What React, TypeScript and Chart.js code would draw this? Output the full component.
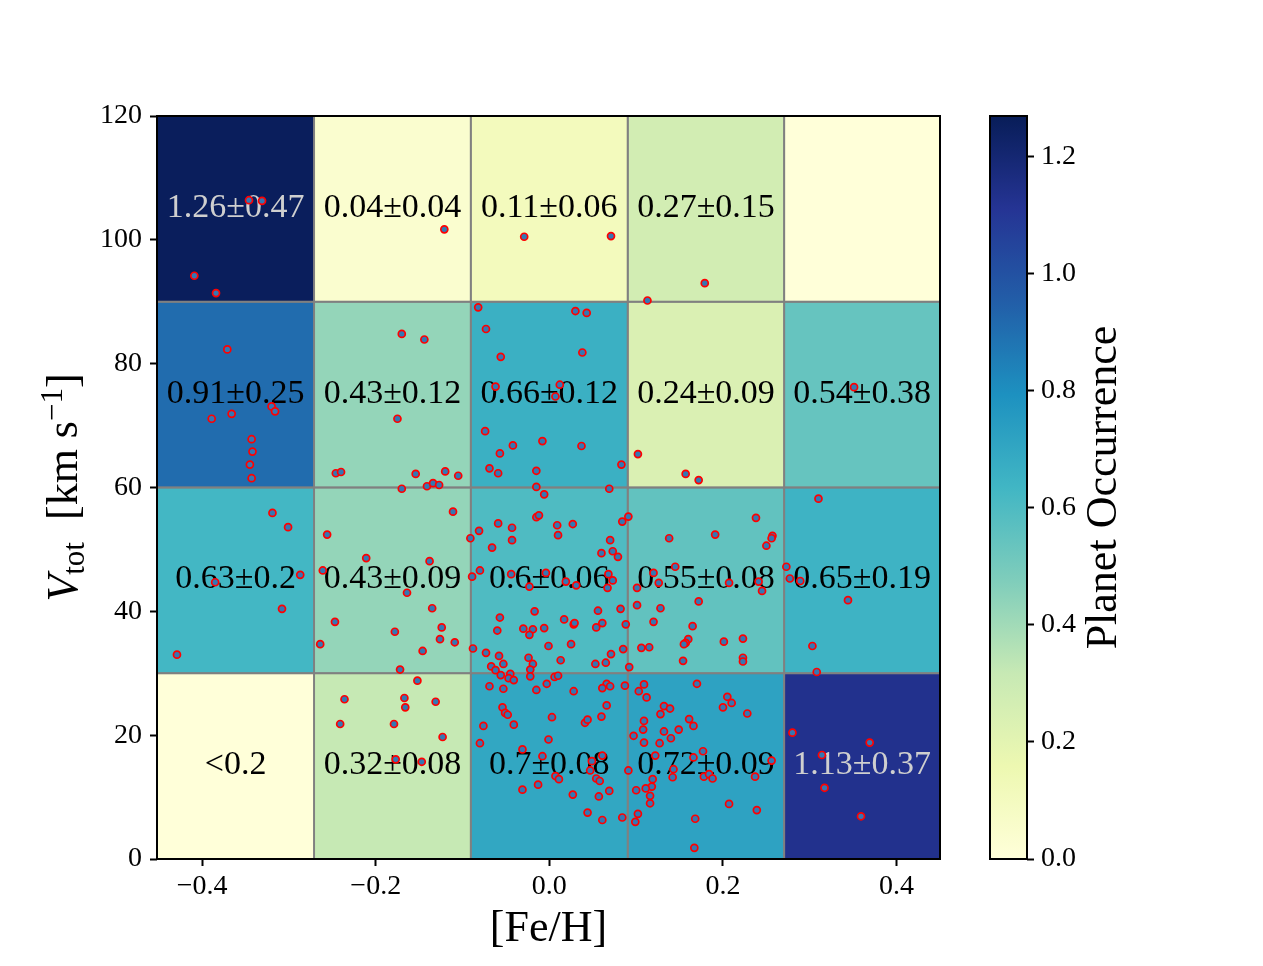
import { useEffect, useRef } from "react";
import { Chart, registerables } from "chart.js";

Chart.register(...registerables);

// Bin edges of the occurrence grid
const fehBinEdges = [-0.452, -0.271, -0.0905, 0.0903, 0.2705, 0.45];
const vtotBinEdges = [0, 30, 60, 90, 120];

// Planet occurrence per velocity bin (lowest first), one entry per [Fe/H] bin
const occurrenceRates: (number | null)[][] = [
  [null, 0.32, 0.7, 0.72, 1.13],
  [0.63, 0.43, 0.6, 0.55, 0.65],
  [0.91, 0.43, 0.66, 0.24, 0.54],
  [1.26, 0.04, 0.11, 0.27, null],
];
const occurrenceErrors: (number | null)[][] = [
  [null, 0.08, 0.08, 0.09, 0.37],
  [0.2, 0.09, 0.06, 0.08, 0.19],
  [0.25, 0.12, 0.12, 0.09, 0.38],
  [0.47, 0.04, 0.06, 0.15, null],
];
const upperLimits: (number | null)[][] = [
  [0.2, null, null, null, null],
  [null, null, null, null, null],
  [null, null, null, null, null],
  [null, null, null, null, null],
];

const fehTicks = [-0.4, -0.2, 0, 0.2, 0.4];
const vtotTicks = [0, 20, 40, 60, 80, 100, 120];
const colorbarTicks = [0, 0.2, 0.4, 0.6, 0.8, 1.0, 1.2];
const colorbarMax = 1.27;

const xTitle = "[Fe/H]";
const colorbarTitle = "Planet Occurrence";

// Host stars: metallicity and total space velocity (km/s)
const starFeH = [
  -0.346, -0.331, -0.121, -0.029, -0.409, -0.384, 0.071, 0.179, 0.113, -0.082,
  -0.073, -0.17, -0.144, -0.371, -0.056, -0.062, -0.32, -0.316, -0.366, -0.389,
  -0.175, -0.343, -0.074, -0.342, -0.008, -0.042, -0.057, -0.345, -0.069, -0.059,
  -0.015, -0.343, -0.246, -0.24, -0.154, -0.12, -0.105, -0.17, -0.141, -0.134,
  -0.127, -0.015, 0.03, 0.043, 0.038, 0.012, 0.007, 0.351, 0.037, 0.083,
  0.102, 0.157, 0.172, 0.069, -0.006, -0.319, -0.301, -0.287, -0.385, -0.308,
  -0.429, -0.111, -0.256, -0.211, -0.138, -0.261, -0.164, -0.135, -0.247, -0.178,
  -0.124, -0.126, -0.109, -0.264, -0.146, -0.172, -0.015, -0.012, -0.059, -0.081,
  -0.043, -0.043, 0.009, 0.027, 0.01, -0.066, -0.091, 0.07, 0.06, 0.073,
  0.079, 0.084, 0.091, -0.08, -0.089, -0.044, -0.004, -0.023, 0.019, 0.031,
  0.068, 0.073, 0.067, -0.017, -0.057, -0.06, -0.03, -0.019, -0.023, -0.006,
  0.017, 0.028, 0.029, 0.056, 0.061, 0.054, 0.082, 0.088, -0.088, -0.073,
  -0.058, -0.001, 0.025, 0.085, 0.071, -0.024, 0.013, -0.067, -0.062, -0.053,
  -0.019, -0.022, 0.053, 0.065, 0.092, 0.238, 0.191, 0.138, 0.257, 0.256,
  0.25, 0.145, 0.12, 0.126, 0.101, 0.207, 0.241, 0.245, 0.172, 0.101,
  0.128, 0.12, 0.165, 0.16, 0.157, 0.155, 0.201, 0.223, 0.106, 0.115,
  0.154, 0.223, 0.223, 0.31, 0.273, 0.277, 0.289, 0.344, 0.303, 0.308,
  -0.152, -0.236, -0.167, -0.166, -0.131, -0.241, -0.179, -0.123, -0.177, -0.147,
  -0.056, -0.045, -0.047, -0.041, -0.022, 0.006, 0.01, -0.003, 0.066, 0.087,
  -0.069, -0.053, -0.015, 0.028, 0.061, 0.07, -0.054, -0.051, -0.048, -0.041,
  0.003, -0.076, 0.041, 0.044, 0.06, 0.066, -0.08, -0.001, -0.031, -0.008,
  0.061, 0.049, 0.047, 0.007, 0.011, 0.054, 0.058, -0.013, -0.031, 0.069,
  0.027, 0.057, 0.044, 0.061, 0.084, 0.091, 0.097, 0.109, 0.103, 0.112,
  0.17, 0.205, 0.21, 0.2, 0.228, 0.132, 0.139, 0.128, 0.161, 0.166,
  0.109, 0.108, 0.109, 0.132, 0.14, 0.149, 0.127, 0.122, 0.177, 0.166,
  0.143, 0.142, 0.119, 0.118, 0.111, 0.116, 0.116, 0.178, 0.184, 0.188,
  0.237, 0.256, 0.1, 0.207, 0.239, 0.102, 0.099, 0.168, 0.167, 0.28,
  0.369, 0.314, 0.317, 0.359,
];
const starVtot = [
  106.4, 106.3, 101.7, 100.5, 94.2, 91.4, 100.6, 93.0, 90.2, 89.1,
  85.6, 84.8, 83.9, 82.3, 81.1, 76.3, 73.1, 72.3, 71.9, 71.1,
  71.1, 67.8, 69.1, 65.8, 67.5, 66.8, 65.5, 63.7, 63.1, 62.3,
  62.7, 61.5, 62.3, 62.5, 62.2, 62.6, 61.9, 59.8, 60.2, 60.7,
  60.4, 60.1, 88.5, 88.2, 81.8, 76.6, 74.7, 76.2, 66.7, 63.7,
  65.4, 62.2, 61.2, 59.8, 58.9, 55.9, 53.6, 45.9, 44.7, 40.4,
  33.0, 56.1, 52.4, 48.6, 48.1, 46.6, 43.0, 40.5, 38.3, 36.7,
  37.4, 35.5, 35.0, 34.7, 33.6, 30.6, 55.2, 55.5, 54.2, 53.0,
  53.5, 51.5, 53.9, 54.1, 52.3, 50.3, 51.8, 51.5, 49.4, 49.7,
  48.8, 54.5, 55.3, 46.6, 45.6, 46.0, 46.2, 44.0, 44.8, 44.2,
  46.0, 45.0, 43.8, 40.0, 39.0, 36.9, 37.2, 37.1, 36.2, 37.3,
  38.7, 37.9, 38.1, 40.1, 38.1, 37.4, 40.4, 37.9, 34.0, 33.3,
  32.8, 34.4, 34.7, 33.9, 33.1, 32.5, 32.1, 31.1, 30.5, 31.5,
  31.5, 30.6, 31.5, 31.7, 31.0, 55.1, 52.4, 51.8, 52.2, 51.8,
  50.6, 47.2, 46.2, 44.6, 43.8, 44.6, 44.8, 43.3, 41.6, 41.0,
  40.5, 38.3, 37.6, 35.5, 34.9, 34.7, 35.1, 35.6, 34.1, 34.2,
  32.0, 32.5, 31.9, 58.2, 47.2, 45.3, 44.9, 41.8, 34.4, 30.2,
  28.8, 25.8, 26.0, 24.5, 25.4, 21.8, 21.8, 19.7, 16.1, 15.7,
  29.7, 29.9, 29.2, 28.9, 29.5, 29.4, 29.6, 28.3, 28.3, 28.0,
  27.9, 27.5, 27.3, 27.1, 27.6, 27.9, 24.5, 23.6, 23.3, 21.7,
  22.9, 21.5, 22.0, 22.5, 23.0, 24.8, 18.7, 19.3, 17.7, 16.6,
  16.7, 15.8, 14.3, 13.4, 12.9, 13.0, 12.6, 12.0, 11.2, 11.0,
  10.4, 10.1, 7.5, 6.3, 6.7, 14.3, 19.9, 28.2, 27.1, 26.1,
  28.3, 26.2, 25.2, 24.5, 23.5, 24.7, 24.3, 23.4, 22.6, 21.5,
  22.3, 20.9, 18.8, 20.6, 19.5, 20.9, 18.7, 16.7, 17.4, 16.4,
  14.5, 13.2, 12.9, 11.7, 11.4, 10.2, 9.0, 13.3, 13.7, 13.0,
  13.3, 15.9, 11.1, 8.9, 7.9, 7.3, 6.0, 6.5, 1.8, 20.4,
  18.8, 16.8, 11.5, 6.9,
];

// YlGnBu colormap anchors
const ylgnbuStops = [
  "#ffffd9", "#edf8b1", "#c7e9b4", "#7fcdbb", "#41b6c4",
  "#1d91c0", "#225ea8", "#253494", "#081d58",
];

const SERIF = '"Liberation Serif", "Times New Roman", serif';

function hexToRgb(h: string) {
  return [
    parseInt(h.slice(1, 3), 16),
    parseInt(h.slice(3, 5), 16),
    parseInt(h.slice(5, 7), 16),
  ];
}

function ylgnbu(t: number) {
  const c = Math.max(0, Math.min(1, t));
  const s = c * (ylgnbuStops.length - 1);
  const i = Math.min(ylgnbuStops.length - 2, Math.floor(s));
  const f = s - i;
  const a = hexToRgb(ylgnbuStops[i]);
  const b = hexToRgb(ylgnbuStops[i + 1]);
  const m = a.map((v, k) => Math.round(v + (b[k] - v) * f));
  return `rgb(${m[0]},${m[1]},${m[2]})`;
}

function fmtSigned(v: number, digits: number) {
  const s = Math.abs(v).toFixed(digits);
  return v < -1e-9 ? "\u2212" + s : s;
}

function cellLabel(r: number, c: number) {
  const rate = occurrenceRates[r][c];
  const err = occurrenceErrors[r][c];
  const lim = upperLimits[r][c];
  if (rate != null) return `${rate}\u00b1${err}`;
  if (lim != null) return `<${lim}`;
  return "";
}

const occurrenceGridPlugin = {
  id: "occurrenceGrid",
  beforeDatasetsDraw(chart: any) {
    const { ctx, scales } = chart;
    const x = scales.x;
    const y = scales.y;
    ctx.save();
    for (let r = 0; r < vtotBinEdges.length - 1; r++) {
      for (let c = 0; c < fehBinEdges.length - 1; c++) {
        const x0 = x.getPixelForValue(fehBinEdges[c]);
        const x1 = x.getPixelForValue(fehBinEdges[c + 1]);
        const y0 = y.getPixelForValue(vtotBinEdges[r]);
        const y1 = y.getPixelForValue(vtotBinEdges[r + 1]);
        ctx.fillStyle = ylgnbu((occurrenceRates[r][c] ?? 0) / colorbarMax);
        ctx.fillRect(x0, y1, x1 - x0, y0 - y1);
      }
    }
    ctx.strokeStyle = "#808080";
    ctx.lineWidth = 1.8;
    for (let r = 0; r < vtotBinEdges.length - 1; r++) {
      for (let c = 0; c < fehBinEdges.length - 1; c++) {
        const x0 = x.getPixelForValue(fehBinEdges[c]);
        const x1 = x.getPixelForValue(fehBinEdges[c + 1]);
        const y0 = y.getPixelForValue(vtotBinEdges[r]);
        const y1 = y.getPixelForValue(vtotBinEdges[r + 1]);
        ctx.strokeRect(x0, y1, x1 - x0, y0 - y1);
      }
    }
    ctx.font = `34px ${SERIF}`;
    ctx.textAlign = "center";
    ctx.textBaseline = "middle";
    for (let r = 0; r < vtotBinEdges.length - 1; r++) {
      for (let c = 0; c < fehBinEdges.length - 1; c++) {
        const label = cellLabel(r, c);
        if (!label) continue;
        const cx = (x.getPixelForValue(fehBinEdges[c]) + x.getPixelForValue(fehBinEdges[c + 1])) / 2;
        const cy = (y.getPixelForValue(vtotBinEdges[r]) + y.getPixelForValue(vtotBinEdges[r + 1])) / 2;
        const rate = occurrenceRates[r][c] ?? 0;
        ctx.fillStyle = rate > 1 ? "#cfcfcf" : "#000000";
        ctx.fillText(label, cx, cy - 1);
      }
    }
    ctx.restore();
  },
};

const frameAndTitlesPlugin = {
  id: "frameAndTitles",
  afterDraw(chart: any) {
    const { ctx, chartArea } = chart;
    const { left, right, top, bottom } = chartArea;
    ctx.save();
    ctx.strokeStyle = "#000";
    ctx.lineWidth = 2;
    ctx.strokeRect(left, top, right - left, bottom - top);

    ctx.fillStyle = "#000";
    ctx.font = `44px ${SERIF}`;
    ctx.textAlign = "center";
    ctx.textBaseline = "alphabetic";
    ctx.fillText(xTitle, (left + right) / 2, 941);

    // V_tot [km s^-1], rotated, with sub- and superscripts
    const parts = [
      { text: "V", font: `italic 44px ${SERIF}`, shift: 0 },
      { text: "tot", font: `31px ${SERIF}`, shift: 7 },
      { text: "  [km s", font: `44px ${SERIF}`, shift: 0 },
      { text: "\u22121", font: `31px ${SERIF}`, shift: -15 },
      { text: "]", font: `44px ${SERIF}`, shift: 0 },
    ];
    let total = 0;
    const widths = parts.map((p) => {
      ctx.font = p.font;
      const w = ctx.measureText(p.text).width;
      total += w;
      return w;
    });
    ctx.translate(77, (top + bottom) / 2);
    ctx.rotate(-Math.PI / 2);
    ctx.textAlign = "left";
    let u = -total / 2;
    parts.forEach((p, i) => {
      ctx.font = p.font;
      ctx.fillText(p.text, u, p.shift);
      u += widths[i];
    });
    ctx.restore();
  },
};

const colorbarDecorPlugin = {
  id: "colorbarDecor",
  afterDraw(chart: any) {
    const { ctx, chartArea } = chart;
    const { left, right, top, bottom } = chartArea;
    ctx.save();
    ctx.strokeStyle = "#000";
    ctx.lineWidth = 2;
    ctx.strokeRect(left, top, right - left, bottom - top);
    ctx.fillStyle = "#000";
    ctx.font = `44px ${SERIF}`;
    ctx.textAlign = "center";
    ctx.textBaseline = "alphabetic";
    ctx.translate(156, (top + bottom) / 2);
    ctx.rotate(-Math.PI / 2);
    ctx.fillText(colorbarTitle, 0, 0);
    ctx.restore();
  },
};

const tickFont = { family: SERIF, size: 28 };

export default function App() {
  const mainRef = useRef<HTMLCanvasElement>(null);
  const barRef = useRef<HTMLCanvasElement>(null);

  useEffect(() => {
    const points = starFeH.map((x, i) => ({ x, y: starVtot[i] }));

    const main = new Chart(mainRef.current!, {
      type: "scatter",
      data: {
        datasets: [
          {
            data: points,
            pointRadius: 3.5,
            pointBorderWidth: 1.7,
            pointBackgroundColor: "#3577b3",
            pointBorderColor: "#ff0000",
            showLine: false,
          },
        ],
      },
      options: {
        animation: false,
        responsive: false,
        devicePixelRatio: 1,
        events: [],
        layout: { padding: { left: 0, top: 116, right: 20, bottom: 0 } },
        plugins: { legend: { display: false }, tooltip: { enabled: false } },
        scales: {
          x: {
            type: "linear",
            position: "bottom",
            min: fehBinEdges[0],
            max: fehBinEdges[fehBinEdges.length - 1],
            afterFit: (s: any) => {
              s.height = 107;
            },
            afterBuildTicks: (s: any) => {
              s.ticks = fehTicks.map((v) => ({ value: v }));
            },
            ticks: {
              callback: (v: any) => fmtSigned(Number(v), 1),
              font: tickFont,
              color: "#000",
              padding: 4,
              maxRotation: 0,
            },
            grid: {
              drawOnChartArea: false,
              tickLength: 7,
              tickWidth: 2,
              tickColor: "#000",
            },
            border: { display: false },
          },
          y: {
            type: "linear",
            position: "left",
            min: vtotBinEdges[0],
            max: vtotBinEdges[vtotBinEdges.length - 1],
            afterFit: (s: any) => {
              s.width = 157;
            },
            afterBuildTicks: (s: any) => {
              s.ticks = vtotTicks.map((v) => ({ value: v }));
            },
            ticks: {
              callback: (v: any) => String(v),
              font: tickFont,
              color: "#000",
              padding: 8,
            },
            grid: {
              drawOnChartArea: false,
              tickLength: 7,
              tickWidth: 2,
              tickColor: "#000",
            },
            border: { display: false },
          },
        },
      },
      plugins: [occurrenceGridPlugin, frameAndTitlesPlugin],
    } as any);

    const bar = new Chart(barRef.current!, {
      type: "bar",
      data: {
        labels: [""],
        datasets: [
          {
            data: [colorbarMax],
            borderWidth: 0,
            barPercentage: 1,
            categoryPercentage: 1,
            backgroundColor: (c: any) => {
              const { chart } = c;
              const sy = chart.scales?.y;
              if (!chart.chartArea || !sy) return ylgnbuStops[0];
              const g = chart.ctx.createLinearGradient(
                0,
                sy.getPixelForValue(0),
                0,
                sy.getPixelForValue(colorbarMax)
              );
              ylgnbuStops.forEach((col, i) => g.addColorStop(i / (ylgnbuStops.length - 1), col));
              return g;
            },
          },
        ],
      },
      options: {
        animation: false,
        responsive: false,
        devicePixelRatio: 1,
        events: [],
        layout: { padding: { left: 30, top: 116, right: 0, bottom: 107 } },
        plugins: { legend: { display: false }, tooltip: { enabled: false } },
        scales: {
          x: { display: false },
          y: {
            position: "right",
            min: 0,
            max: colorbarMax,
            afterFit: (s: any) => {
              s.width = 236;
            },
            afterBuildTicks: (s: any) => {
              s.ticks = colorbarTicks.map((v) => ({ value: v }));
            },
            ticks: {
              callback: (v: any) => Number(v).toFixed(1),
              font: tickFont,
              color: "#000",
              padding: 7,
            },
            grid: {
              drawOnChartArea: false,
              tickLength: 7,
              tickWidth: 2,
              tickColor: "#000",
            },
            border: { display: false },
          },
        },
      },
      plugins: [colorbarDecorPlugin],
    } as any);

    return () => {
      main.destroy();
      bar.destroy();
    };
  }, []);

  return (
    <div
      style={{
        position: "fixed",
        left: 0,
        top: 0,
        width: 1263,
        height: 966,
        background: "#ffffff",
      }}
    >
      <canvas
        ref={mainRef}
        width={960}
        height={966}
        style={{ position: "absolute", left: 0, top: 0, width: 960, height: 966 }}
      />
      <canvas
        ref={barRef}
        width={303}
        height={966}
        style={{ position: "absolute", left: 960, top: 0, width: 303, height: 966 }}
      />
    </div>
  );
}
